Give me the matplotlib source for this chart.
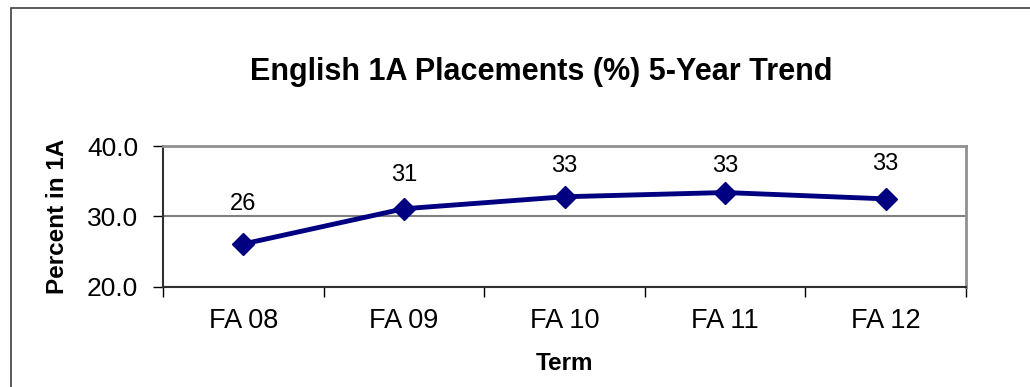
import matplotlib.pyplot as plt
from matplotlib.patches import Rectangle

plt.rcParams['font.family'] = ['Liberation Sans', 'DejaVu Sans']

# placement data
terms = ['FA 08', 'FA 09', 'FA 10', 'FA 11', 'FA 12']
percent_1a = [26.1, 31.1, 32.8, 33.4, 32.5]
labels = ['26', '31', '33', '33', '33']
# vertical distance (points) of each value label above its marker
label_offsets = [29, 24, 22, 19, 25]

fig = plt.figure(figsize=(10.30, 3.87), dpi=100)
fig.patches.append(Rectangle((11 / 1030, -0.1), 1.2, (387 - 8) / 387 + 0.1,
                             transform=fig.transFigure, fill=False,
                             edgecolor='#404040', linewidth=1.2))

ax = fig.add_axes([163 / 1030, 1 - 287 / 387, (966 - 163) / 1030, (287 - 146) / 387])

x = range(len(terms))
ax.plot(x, percent_1a, color='#000080', linewidth=3.5, marker='D',
        markersize=11, markeredgecolor='#000080', zorder=3)
for xi, v, lab, off in zip(x, percent_1a, labels, label_offsets):
    ax.annotate(lab, (xi, v), xytext=(0, off), textcoords='offset points',
                ha='center', va='center', fontsize=17)

ax.set_xlim(-0.5, len(terms) - 0.5)
ax.set_ylim(20, 40)
ax.set_yticks([20, 30, 40])
ax.set_yticklabels(['20.0', '30.0', '40.0'], fontsize=19)
ax.set_xticks(x)
ax.set_xticklabels(terms, fontsize=19.5)
ax.set_xticks([i - 0.5 for i in range(len(terms) + 1)], minor=True)
ax.tick_params(axis='x', which='major', length=0, pad=15)
ax.tick_params(axis='x', which='minor', length=7, width=1, color='black')
ax.tick_params(axis='y', length=7, width=1, pad=11)
ax.yaxis.grid(True, color='#808080', linewidth=1.5)

for side in ['top', 'right']:
    ax.spines[side].set_color('#909090')
    ax.spines[side].set_linewidth(2)
for side in ['left', 'bottom']:
    ax.spines[side].set_color('#303030')
    ax.spines[side].set_linewidth(1.5)

ax.set_xlabel('Term', fontsize=17.5, fontweight='bold', labelpad=13)
ax.set_ylabel('Percent in 1A', fontsize=17.5, fontweight='bold', labelpad=13)

fig.text(541 / 1030, 1 - 72 / 387, 'English 1A Placements (%) 5-Year Trend',
         ha='center', va='center', fontsize=22, fontweight='bold')

fig.savefig('out.png', dpi=100)
